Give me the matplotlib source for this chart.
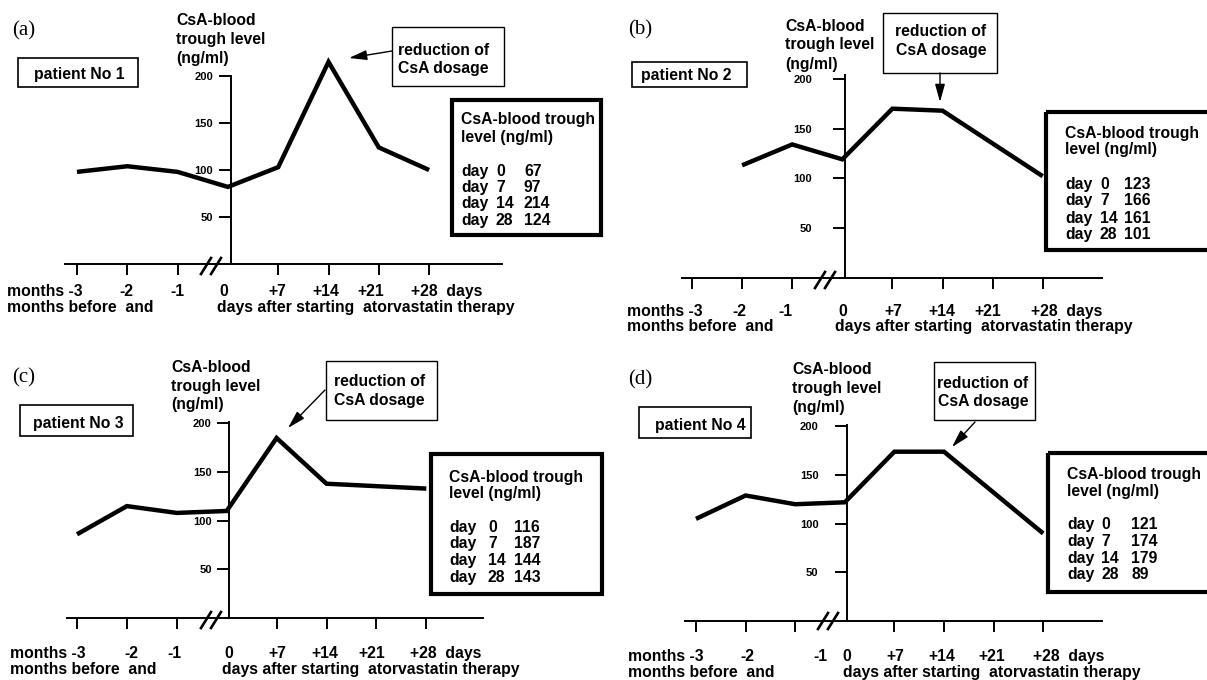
import matplotlib
matplotlib.use("Agg")
import matplotlib.pyplot as plt
from matplotlib.patches import Rectangle
from matplotlib.lines import Line2D

# ---------------- data ----------------
x_categories = ["-3", "-2", "-1", "0", "+7", "+14", "+21", "+28"]
y_ticks = [50, 100, 150, 200]
panel_letters = ["(a)", "(b)", "(c)", "(d)"]
patient_names = ["patient No 1", "patient No 2", "patient No 3", "patient No 4"]

p1_pos = [0, 1, 2, 3, 4, 5, 6, 7]
p1_vals = [98, 104, 98, 82, 103, 215, 124, 100]
p2_pos = [1, 2, 3, 4, 5, 7]
p2_vals = [113, 134, 119, 170, 168, 102]
p3_pos = [0, 1, 2, 3, 4, 5, 7]
p3_vals = [86, 115, 108, 110, 185, 138, 133]
p4_pos = [0, 1, 2, 3, 4, 5, 7]
p4_vals = [105, 129, 120, 122, 174, 174, 90]

table_days = ["0", "7", "14", "28"]
p1_table = ["67", "97", "214", "124"]
p2_table = ["123", "166", "161", "101"]
p3_table = ["116", "187", "144", "143"]
p4_table = ["121", "174", "179", "89"]

ylabel_lines = ["CsA-blood", "trough level", "(ng/ml)"]
note_lines = ["reduction of", "CsA dosage"]
table_head = ["CsA-blood trough", "level (ng/ml)"]
line2_left = "months before  and"
line2_right = "days after starting  atorvastatin therapy"

series = [(p1_pos, p1_vals), (p2_pos, p2_vals), (p3_pos, p3_vals), (p4_pos, p4_vals)]
tables = [p1_table, p2_table, p3_table, p4_table]

# ---------------- layout (pixels) ----------------
W, H = 1207, 680
layouts = [
    dict(x0=77, dx=50.3, yax=231, zero=264, sc=0.94, xmin=-0.24, xmax=8.45, ytop=200, ypad=4.5,
         letter=(12, 28), ylab_x=176, ylab_y=[19, 38, 57],
         pbox=(18, 58, 138, 87), ptext=(34, 73),
         abox=(392, 27, 504, 86), aha='left', ax_=398, ay=[49, 67],
         arrow=((392, 51), (349, 58)),
         tbox=(452, 100, 601, 235), thx=461, thy=[118, 136], try_=[170, 186, 202, 219],
         tcol=[461, 496, 524],
         l1=290, l2=306, mx=7, lcx=[126, 177, 224, 277, 326, 371], p28=411, dxl=217, brk=(211, 266)),
    dict(x0=692, dx=50.1, yax=845, zero=277.5, sc=0.993, xmin=-0.2, xmax=8.18, ytop=204, ypad=15,
         letter=(628, 27), ylab_x=785, ylab_y=[25, 43, 63],
         pbox=(632, 62, 747, 87), ptext=(641, 74),
         abox=(883, 13, 997, 73), aha='center', ax_=941, ay=[30, 49],
         arrow=((940, 73), (940, 102)),
         tbox=(1046, 112, 1215, 250), thx=1065, thy=[132, 148], try_=[183, 199, 217, 233],
         tcol=[1065, 1100, 1124],
         l1=310, l2=325, mx=627, lcx=[739, 785, 843, 893, 942, 988], p28=1031, dxl=835, brk=(825, 280)),
    dict(x0=77, dx=49.9, yax=229, zero=618, sc=0.973, xmin=-0.2, xmax=8.14, ytop=201, ypad=4,
         letter=(12, 375), ylab_x=171, ylab_y=[366, 385, 403],
         pbox=(20, 405, 133, 436), ptext=(33, 422),
         abox=(326, 361, 437, 420), aha='left', ax_=334, ay=[380, 399],
         arrow=((325, 390), (288, 428)),
         tbox=(431, 454, 602, 594), thx=449, thy=[476, 492], try_=[526, 542, 559, 576],
         tcol=[449, 488, 514],
         l1=652, l2=668, mx=10, lcx=[131, 174, 229, 277, 325, 372], p28=410, dxl=222, brk=(211, 620)),
    dict(x0=696, dx=49.6, yax=847, zero=621, sc=0.973, xmin=-0.22, xmax=8.19, ytop=201, ypad=12,
         letter=(628, 377), ylab_x=792, ylab_y=[368, 387, 406],
         pbox=(639, 407, 751, 438), ptext=(655, 424),
         abox=(934, 362, 1035, 420), aha='right', ax_=1028, ay=[382, 400],
         arrow=((975, 422), (952, 447)),
         tbox=(1048, 453, 1215, 592), thx=1067, thy=[473, 490], try_=[523, 540, 557, 573],
         tcol=[1067, 1101, 1131],
         l1=655, l2=671, mx=628, lcx=[747, 820, 847, 895, 942, 992], p28=1033, dxl=843, brk=(828, 621)),
]

SANS = ['Liberation Sans', 'DejaVu Sans']
SERIF = ['Liberation Serif', 'DejaVu Serif']
FS = 11.3
YMAX = 230

fig = plt.figure(figsize=(W / 100, H / 100), dpi=100)
fig.patch.set_facecolor('white')

ov = fig.add_axes([0, 0, 1, 1])
ov.set_xlim(0, W)
ov.set_ylim(H, 0)
ov.axis('off')


def txt(x, y, s, ha='left', size=FS, family=SANS, weight='bold'):
    ov.text(x, y, s, ha=ha, va='center_baseline', fontsize=size, family=family,
            fontweight=weight, color='black')


for k, L in enumerate(layouts):
    pos, vals = series[k]
    left = L['x0'] + L['xmin'] * L['dx']
    width = (L['xmax'] - L['xmin']) * L['dx']
    ax = fig.add_axes([left / W, (H - L['zero']) / H, width / W, YMAX * L['sc'] / H])
    ax.patch.set_visible(False)
    ax.set_xlim(L['xmin'], L['xmax'])
    ax.set_ylim(0, YMAX)
    for s in ['top', 'right']:
        ax.spines[s].set_visible(False)
    yax_data = (L['yax'] - L['x0']) / L['dx']
    ax.spines['left'].set_position(('data', yax_data))
    ax.spines['left'].set_bounds(0, L['ytop'])
    ax.spines['left'].set_linewidth(1.4)
    ax.spines['bottom'].set_linewidth(1.4)
    ax.set_yticks(y_ticks)
    ax.set_yticklabels([str(v) for v in y_ticks], fontsize=8, fontweight='bold', family=SANS)
    ax.tick_params(axis='y', direction='out', length=8.5, width=1.4, pad=L['ypad'])
    xt = [i for i, c in enumerate(x_categories) if c != "0"]
    ax.set_xticks(xt)
    ax.set_xticklabels([])
    ax.tick_params(axis='x', direction='out', length=8, width=1.4)
    ax.plot(pos, vals, color='black', lw=3.2, solid_joinstyle='miter',
            solid_capstyle='butt', clip_on=False)

    # break marks
    bx, by = L['brk']
    for off in (-5, 5):
        ov.add_line(Line2D([bx + off - 5, bx + off + 5], [by + 8, by - 8],
                           color='black', lw=1.9))

    # panel letter
    txt(L['letter'][0], L['letter'][1], panel_letters[k], size=15, family=SERIF, weight='normal')

    # y label
    for s, yy in zip(ylabel_lines, L['ylab_y']):
        txt(L['ylab_x'], yy, s)

    # patient box
    x1, y1, x2, y2 = L['pbox']
    ov.add_patch(Rectangle((x1, y1), x2 - x1, y2 - y1, fill=False, lw=1.2, ec='black'))
    txt(L['ptext'][0], L['ptext'][1], patient_names[k])

    # annotation box
    x1, y1, x2, y2 = L['abox']
    ov.add_patch(Rectangle((x1, y1), x2 - x1, y2 - y1, fill=False, lw=1.0, ec='black'))
    for s, yy in zip(note_lines, L['ay']):
        txt(L['ax_'], yy, s, ha=L['aha'])
    (tx, ty), (hx, hy) = L['arrow']
    ov.annotate('', xy=(hx, hy), xytext=(tx, ty),
                arrowprops=dict(arrowstyle='-|>,head_length=0.9,head_width=0.25',
                                lw=1.0, color='black', shrinkA=0, shrinkB=0,
                                mutation_scale=12))

    # table box
    x1, y1, x2, y2 = L['tbox']
    ov.add_patch(Rectangle((x1, y1), x2 - x1, y2 - y1, fill=False, lw=3.0, ec='black',
                           joinstyle='miter'))
    for s, yy in zip(table_head, L['thy']):
        txt(L['thx'], yy, s)
    c0, c1, c2 = L['tcol']
    for d, v, yy in zip(table_days, tables[k], L['try_']):
        txt(c0, yy, "day")
        txt(c1, yy, d)
        txt(c2, yy, v)

    # x labels
    txt(L['mx'], L['l1'], "months " + x_categories[0])
    for s, cx in zip(x_categories[1:7], L['lcx']):
        txt(cx, L['l1'], s, ha='center')
    txt(L['p28'], L['l1'], x_categories[7] + "  days")
    txt(L['mx'], L['l2'], line2_left)
    txt(L['dxl'], L['l2'], line2_right)

fig.savefig("out.png", dpi=100, facecolor='white')
